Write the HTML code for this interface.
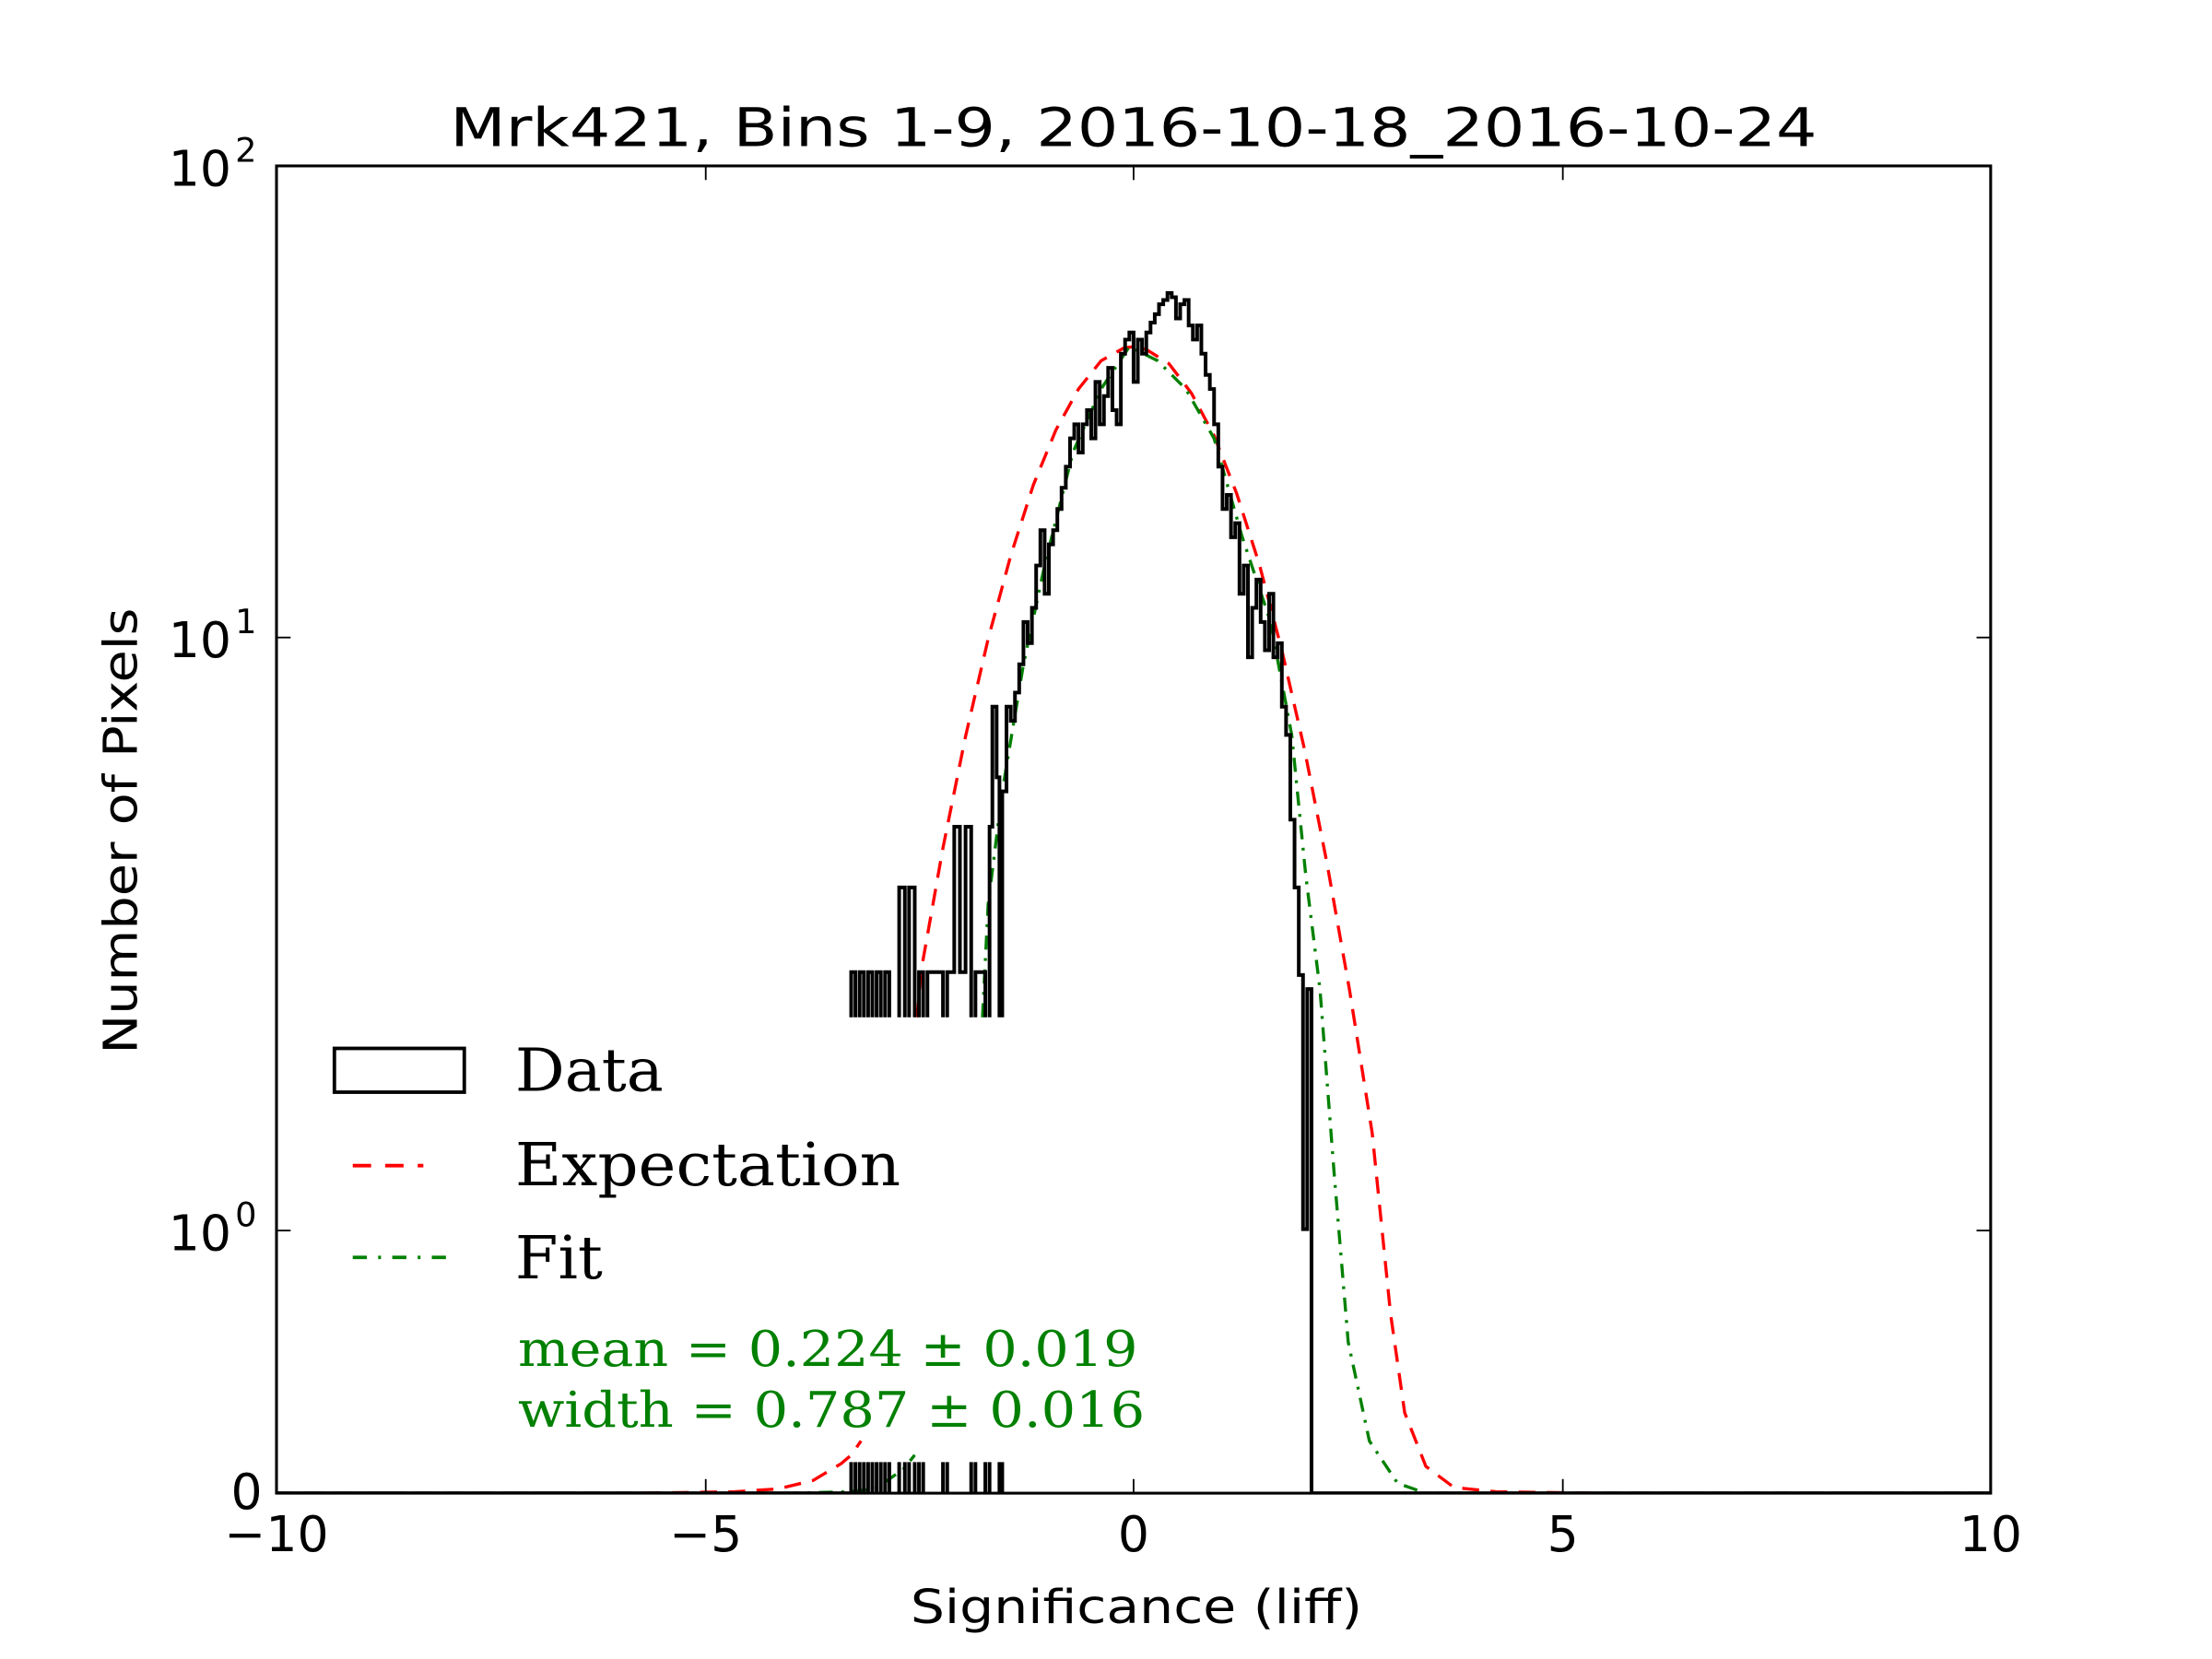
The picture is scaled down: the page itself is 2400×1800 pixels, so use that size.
<!DOCTYPE html>
<html><head><meta charset="utf-8"><style>html,body{margin:0;padding:0;background:#fff}svg{display:block}</style></head>
<body>
<svg width="2400" height="1800" viewBox="0 0 2400 1800" xmlns="http://www.w3.org/2000/svg">
<rect width="2400" height="1800" fill="#fff"/>
<g transform="translate(300 180) scale(1.532) translate(-196 -117)" font-family="'DejaVu Sans','Liberation Sans',sans-serif">
<defs><clipPath id="c"><rect x="196" y="117" width="1214" height="940"/></clipPath></defs>
<g clip-path="url(#c)">
<polyline fill="none" stroke="#f00" stroke-width="2.2" stroke-dasharray="12,8" points="196,1057 450,1057 520,1056 551,1054 576,1048 596,1036 603,1030 610,1020"/>
<polyline fill="none" stroke="#f00" stroke-width="2.2" stroke-dasharray="12,8" points="650,720 652,690 668,600 684,521 700,452 716,393 732,343 748,304 764,275 780,255 796,246 803,245 812,247 828,257 844,278 860,308 876,349 892,399 908,460 924,530 940,611 956,701 972,802 985,930 995,1000 1010,1038 1030,1053 1060,1056 1130,1057 1410,1057"/>
<polyline fill="none" stroke="#008000" stroke-width="2.2" stroke-dasharray="10,6,2,6" points="196,1057 560,1057 600,1056 620,1054 640,1040 648,1030"/>
<polyline fill="none" stroke="#008000" stroke-width="2.2" stroke-dasharray="10,6,2,6" points="696,720 700,640 710,560 725,470 740,400 760,320 780,275 800,245 820,255 840,275 860,310 880,380 900,440 915,520 925,620 935,700 945,830 955,950 970,1020 990,1050 1010,1057 1410,1057"/>
<path fill="none" stroke="#000" stroke-width="2.6" d="M603 720 V688 H606 V720 M609 720 V688 H612 V720 M615 720 V688 H618 V720 M621 720 V688 H624 V720 M627 720 V688 H630 V720 M637 720 V628 H641 V720 M644 720 V628 H648 V720 M651 720 V688 H654 V720 M657 720 V688 H668 V720 M671 720 V688 H676 V585 H680 V688 H684 V585 H688 V720 M691 720 V688 H698 V720 M701 720 V585 H703 V500 H706 V550 H708 V720"/>
<path fill="none" stroke="#000" stroke-width="2.6" d="M196 1057 H603 V1035 M606 1035 V1057 M609 1035 V1057 M612 1035 V1057 M615 1035 V1057 M618 1035 V1057 M621 1035 V1057 M624 1035 V1057 M627 1035 V1057 M630 1035 V1057 M637 1035 V1057 M641 1035 V1057 M644 1035 V1057 M648 1035 V1057 M651 1035 V1057 M654 1035 V1057 M668 1035 V1057 M671 1035 V1057 M688 1035 V1057 M691 1035 V1057 M698 1035 V1057 M701 1035 V1057 M708 1035 V1057 M710 1035 V1057"/>
<path fill="none" stroke="#000" stroke-width="2.6" stroke-linejoin="miter" d="M710 720 V560 H713 V500 H716 V510 H719 V490 H722 V470 H725 V440 H728 V455 H731 V430 H734 V400 H737 V375 H740 V420 H743 V385 H746 V375 H749 V360 H752 V345 H755 V330 H758 V310 H761 V300 H764 V320 H767 V300 H770 V290 H773 V310 H776 V270 H779 V300 H782 V280 H785 V260 H788 V290 H791 V300 H794 V250 H797 V240 H800 V235 H803 V270 H806 V240 H809 V250 H812 V235 H815 V228 H818 V222 H821 V215 H824 V212 H827 V207 H830 V210 H833 V225 H836 V215 H839 V212 H842 V230 H845 V240 H848 V230 H851 V250 H854 V265 H857 V275 H860 V300 H863 V330 H866 V360 H869 V350 H872 V380 H875 V370 H878 V420 H881 V400 H884 V465 H887 V430 H890 V410 H893 V440 H896 V460 H899 V420 H902 V465 H905 V455 H908 V500 H911 V520 H914 V580 H917 V628 H920 V690 H923 V870 H926 V700 H929 V1057 H1410"/>
</g>
<rect x="196" y="117" width="1214" height="940" fill="none" stroke="#000" stroke-width="2"/>
<g stroke="#000" stroke-width="1.2">
<line x1="500" y1="1057" x2="500" y2="1047"/><line x1="803" y1="1057" x2="803" y2="1047"/><line x1="1107" y1="1057" x2="1107" y2="1047"/>
<line x1="500" y1="117" x2="500" y2="127"/><line x1="803" y1="117" x2="803" y2="127"/><line x1="1107" y1="117" x2="1107" y2="127"/>
<line x1="196" y1="451" x2="206" y2="451"/><line x1="196" y1="871" x2="206" y2="871"/>
<line x1="1410" y1="451" x2="1400" y2="451"/><line x1="1410" y1="871" x2="1400" y2="871"/>
</g>
<g font-size="35" fill="#000" text-anchor="middle">
<text x="196" y="1098">−10</text><text x="500" y="1098">−5</text><text x="803" y="1098">0</text><text x="1107" y="1098">5</text><text x="1410" y="1098">10</text>
</g>
<g font-size="35" fill="#000" text-anchor="end">
<text x="164" y="131">10</text><text x="182" y="114" font-size="24">2</text>
<text x="164" y="465">10</text><text x="182" y="448" font-size="24">1</text>
<text x="164" y="885">10</text><text x="182" y="868" font-size="24">0</text>
<text x="186" y="1068">0</text>
</g>
<text x="803" y="103" font-size="38" text-anchor="middle" textLength="968" lengthAdjust="spacingAndGlyphs">Mrk421, Bins 1-9, 2016-10-18_2016-10-24</text>
<text x="805" y="1149" font-size="33" text-anchor="middle" textLength="320" lengthAdjust="spacingAndGlyphs">Significance (liff)</text>
<text transform="translate(97 588) rotate(-90)" font-size="33" text-anchor="middle" textLength="316" lengthAdjust="spacingAndGlyphs">Number of Pixels</text>
<rect x="237" y="742" width="92" height="31" fill="none" stroke="#000" stroke-width="2.5"/>
<line x1="250" y1="825" x2="300" y2="825" stroke="#f00" stroke-width="2.5" stroke-dasharray="13,10"/>
<line x1="250" y1="890" x2="316" y2="890" stroke="#008000" stroke-width="2.5" stroke-dasharray="10,8,2,8"/>
<g font-family="'DejaVu Serif','Liberation Serif',serif" font-size="42" fill="#000">
<text x="365" y="772" textLength="105" lengthAdjust="spacingAndGlyphs">Data</text>
<text x="365" y="839" textLength="273" lengthAdjust="spacingAndGlyphs">Expectation</text>
<text x="365" y="905" textLength="62" lengthAdjust="spacingAndGlyphs">Fit</text>
</g>
<g font-family="'DejaVu Serif','Liberation Serif',serif" font-size="35" fill="#008000">
<text x="367" y="967" textLength="439" lengthAdjust="spacingAndGlyphs">mean = 0.224 ± 0.019</text>
<text x="367" y="1010" textLength="444" lengthAdjust="spacingAndGlyphs">width = 0.787 ± 0.016</text>
</g>
</g>
</svg>
</body></html>
